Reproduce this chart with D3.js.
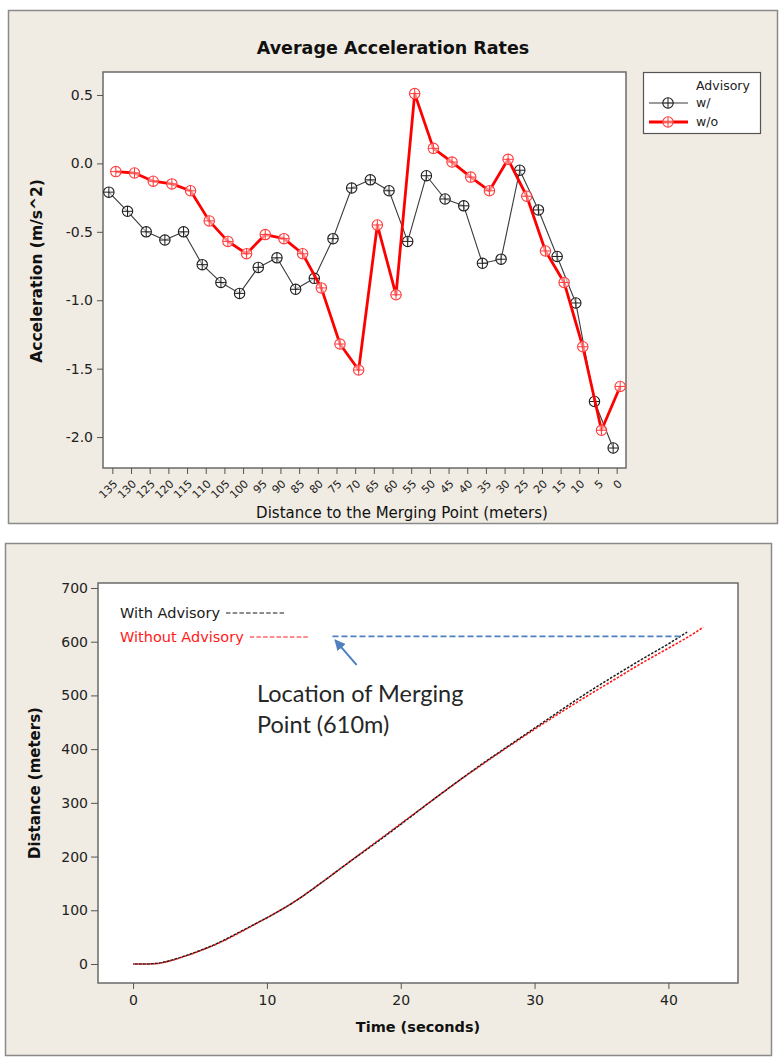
<!DOCTYPE html>
<html>
<head>
<meta charset="utf-8">
<script src="https://cdn.jsdelivr.net/npm/d3@7"></script>
<style>
  html, body { margin: 0; padding: 0; background: #ffffff; }
  svg { display: block; }
</style>
</head>
<body>
<svg id="fig" width="780" height="1059"></svg>
<script>
// ---------- Average acceleration rates by distance to the merging point ----------
const distanceLabels = ["135","130","125","120","115","110","105","100","95","90","85","80","75","70",
                        "65","60","55","50","45","40","35","30","25","20","15","10","5","0"];
const accelWith    = [-0.21,-0.35,-0.50,-0.56,-0.50,-0.74,-0.87,-0.95,-0.76,-0.69,-0.92,-0.84,-0.55,-0.18,
                      -0.12,-0.20,-0.57,-0.09,-0.26,-0.31,-0.73,-0.70,-0.05,-0.34,-0.68,-1.02,-1.74,-2.08];
const accelWithout = [-0.06,-0.07,-0.13,-0.15,-0.20,-0.42,-0.57,-0.66,-0.52,-0.55,-0.66,-0.91,-1.32,-1.51,
                      -0.45,-0.96, 0.51, 0.11, 0.01,-0.10,-0.20, 0.03,-0.24,-0.64,-0.87,-1.34,-1.95,-1.63];
const accelTicks = [-2.0, -1.5, -1.0, -0.5, 0.0, 0.5];
const advisoryGroups = ["w/", "w/o"];

// ---------- Distance travelled over time ----------
const timeWith     = [0,1,2,3,4,5,6,7,8,9,10,11,12,14,16,18,20,22,24,26,28,30,32,34,36,38,40,41.4];
const distWith     = [0,0,2,8,16,25,35,47,60,73,86,100,115,150,187,223,260,298,335,371,405,439,473,506,537,567,596,618];
const timeWithout  = [0,1,2,3,4,5,6,7,8,9,10,11,12,14,16,18,20,22,24,26,28,30,32,34,36,38,40,42,42.6];
const distWithout  = [0,0,1.5,7.5,15.5,24.5,34.5,46,59,72.5,86,100,115,150,187,224,261,298,335,370,404,437,469,500,530,560,588,617,627];
const timeTicks = [0, 10, 20, 30, 40];
const distTicks = [0, 100, 200, 300, 400, 500, 600, 700];
const mergeDistance = 610;          // merging point location (m)
const mergeSpan = [14.9, 41.1];     // time span of the reference line (s)
const arrowFrom = [16.7, 557];      // callout arrow tail (t, d)
const arrowTo   = [15.1, 603];      // callout arrow head (t, d)

const svg = d3.select("#fig");
const panelFill = "#f0ece3";
const uiFont = "'DejaVu Sans', Verdana, sans-serif";

// ======================= Top panel =======================
svg.append("rect").attr("x", 8.5).attr("y", 10.5).attr("width", 769).attr("height", 513)
  .attr("fill", panelFill).attr("stroke", "#8a8a8a").attr("stroke-width", 1.5);

const accArea = { left: 103, right: 626, top: 72, bottom: 468 };
const x1 = d3.scalePoint().domain(distanceLabels).range([accArea.left, accArea.right]).padding(0.5);
const y1 = d3.scaleLinear().domain([-2.226, 0.668]).range([accArea.bottom, accArea.top]);
const dodge = d3.scalePoint().domain(advisoryGroups).range([-3.5, 3.5]);

svg.append("rect").attr("x", accArea.left).attr("y", accArea.top)
  .attr("width", accArea.right - accArea.left).attr("height", accArea.bottom - accArea.top)
  .attr("fill", "#ffffff").attr("stroke", "#6a6a6a").attr("stroke-width", 1.5);

svg.append("text").attr("x", 393).attr("y", 54).attr("text-anchor", "middle")
  .attr("font-family", uiFont).attr("font-weight", "bold").attr("font-size", 17.5)
  .attr("fill", "#111").text("Average Acceleration Rates");

// y axis
const yAx1 = svg.append("g").attr("transform", `translate(${accArea.left},0)`)
  .call(d3.axisLeft(y1).tickValues(accelTicks).tickSize(6).tickPadding(4)
        .tickFormat(d => d.toFixed(1)));
yAx1.select(".domain").remove();
yAx1.selectAll("line").attr("stroke", "#555");
yAx1.selectAll("text").attr("font-family", uiFont).attr("font-size", 14).attr("fill", "#222");

// x axis with rotated category labels
const xAx1 = svg.append("g").attr("transform", `translate(0,${accArea.bottom})`)
  .call(d3.axisBottom(x1).tickSize(6));
xAx1.select(".domain").remove();
xAx1.selectAll("line").attr("stroke", "#555");
xAx1.selectAll("text")
  .attr("font-family", uiFont).attr("font-size", 11).attr("fill", "#222")
  .attr("text-anchor", "end").attr("dy", null).attr("y", null)
  .attr("dominant-baseline", "central")
  .attr("transform", "translate(3,14) rotate(-45)");

svg.append("text").attr("transform", "translate(42,271) rotate(-90)")
  .attr("text-anchor", "middle").attr("font-family", uiFont).attr("font-weight", "bold")
  .attr("font-size", 15.5).attr("fill", "#111").text("Acceleration (m/s^2)");
svg.append("text").attr("x", 402).attr("y", 518).attr("text-anchor", "middle")
  .attr("font-family", uiFont).attr("font-size", 15).attr("fill", "#111")
  .text("Distance to the Merging Point (meters)");

const accelSeries = [
  { key: "w/",  values: accelWith,    line: "#3a3a3a", lw: 1.1, mark: "#1e1e1e" },
  { key: "w/o", values: accelWithout, line: "#ff0000", lw: 2.8, mark: "#ff3b3b" }
];

function drawMarker(g, cx, cy, color) {
  const r = 5.2;
  g.append("circle").attr("cx", cx).attr("cy", cy).attr("r", r)
    .attr("fill", "rgba(255,255,255,0.55)").attr("stroke", color).attr("stroke-width", 1.1);
  g.append("line").attr("x1", cx - r).attr("x2", cx + r).attr("y1", cy).attr("y2", cy)
    .attr("stroke", color).attr("stroke-width", 1);
  g.append("line").attr("x1", cx).attr("x2", cx).attr("y1", cy - r).attr("y2", cy + r)
    .attr("stroke", color).attr("stroke-width", 1);
}

accelSeries.forEach(s => {
  const pts = distanceLabels.map((c, i) => [x1(c) + dodge(s.key), y1(s.values[i])]);
  svg.append("path").attr("d", d3.line()(pts)).attr("fill", "none")
    .attr("stroke", s.line).attr("stroke-width", s.lw).attr("stroke-linejoin", "round");
  const g = svg.append("g");
  pts.forEach(p => drawMarker(g, p[0], p[1], s.mark));
});

// legend
const lg = svg.append("g");
lg.append("rect").attr("x", 643.5).attr("y", 72.5).attr("width", 117).attr("height", 61)
  .attr("fill", "#ffffff").attr("stroke", "#555").attr("stroke-width", 1.2);
lg.append("text").attr("x", 696).attr("y", 90).attr("font-family", uiFont).attr("font-size", 12.5)
  .attr("fill", "#222").text("Advisory");
accelSeries.forEach((s, i) => {
  const yy = 103 + i * 19;
  lg.append("line").attr("x1", 649).attr("x2", 688).attr("y1", yy).attr("y2", yy)
    .attr("stroke", s.line).attr("stroke-width", s.lw);
  drawMarker(lg, 668, yy, s.mark);
  lg.append("text").attr("x", 696).attr("y", yy).attr("dy", "0.35em")
    .attr("font-family", uiFont).attr("font-size", 12.5).attr("fill", "#222").text(s.key);
});

// ======================= Bottom panel =======================
svg.append("rect").attr("x", 5.5).attr("y", 543.5).attr("width", 766).attr("height", 512)
  .attr("fill", panelFill).attr("stroke", "#8a8a8a").attr("stroke-width", 1.5);

const travelArea = { left: 98, right: 738, top: 583, bottom: 983 };
const x2 = d3.scaleLinear().domain([-2.62, 45.2]).range([travelArea.left, travelArea.right]);
const y2 = d3.scaleLinear().domain([-35.4, 709.3]).range([travelArea.bottom, travelArea.top]);

svg.append("rect").attr("x", travelArea.left).attr("y", travelArea.top)
  .attr("width", travelArea.right - travelArea.left).attr("height", travelArea.bottom - travelArea.top)
  .attr("fill", "#ffffff").attr("stroke", "#6a6a6a").attr("stroke-width", 1.5);

const yAx2 = svg.append("g").attr("transform", `translate(${travelArea.left},0)`)
  .call(d3.axisLeft(y2).tickValues(distTicks).tickSize(7).tickPadding(3).tickFormat(d3.format("d")));
yAx2.select(".domain").remove();
yAx2.selectAll("line").attr("stroke", "#555");
yAx2.selectAll("text").attr("font-family", uiFont).attr("font-size", 14).attr("fill", "#222");

const xAx2 = svg.append("g").attr("transform", `translate(0,${travelArea.bottom})`)
  .call(d3.axisBottom(x2).tickValues(timeTicks).tickSize(6).tickPadding(6).tickFormat(d3.format("d")));
xAx2.select(".domain").remove();
xAx2.selectAll("line").attr("stroke", "#555");
xAx2.selectAll("text").attr("font-family", uiFont).attr("font-size", 14).attr("fill", "#222");

svg.append("text").attr("transform", "translate(40,783) rotate(-90)")
  .attr("text-anchor", "middle").attr("font-family", uiFont).attr("font-weight", "bold")
  .attr("font-size", 15).attr("fill", "#111").text("Distance (meters)");
svg.append("text").attr("x", 418).attr("y", 1032).attr("text-anchor", "middle")
  .attr("font-family", uiFont).attr("font-weight", "bold").attr("font-size", 14.5)
  .attr("fill", "#111").text("Time (seconds)");

const travelLine = d3.line().x(d => x2(d[0])).y(d => y2(d[1])).curve(d3.curveMonotoneX);
const withPts = timeWith.map((t, i) => [t, distWith[i]]);
const withoutPts = timeWithout.map((t, i) => [t, distWithout[i]]);

svg.append("path").attr("d", travelLine(withoutPts)).attr("fill", "none")
  .attr("stroke", "#ff1a1a").attr("stroke-width", 1.6).attr("stroke-dasharray", "2.5,1.5");
svg.append("path").attr("d", travelLine(withPts)).attr("fill", "none")
  .attr("stroke", "#1a1a1a").attr("stroke-width", 1.5).attr("stroke-dasharray", "2.5,1.5")
  .attr("stroke-dashoffset", 2);

// merging point reference line and callout
svg.append("line").attr("x1", x2(mergeSpan[0])).attr("x2", x2(mergeSpan[1]))
  .attr("y1", y2(mergeDistance)).attr("y2", y2(mergeDistance))
  .attr("stroke", "#4f7fbf").attr("stroke-width", 1.6).attr("stroke-dasharray", "6,3");

const defs = svg.append("defs");
defs.append("marker").attr("id", "arrowHead").attr("viewBox", "0 0 10 10")
  .attr("refX", 9).attr("refY", 5).attr("markerWidth", 5.5).attr("markerHeight", 5.5)
  .attr("orient", "auto")
  .append("path").attr("d", "M0,0 L10,5 L0,10 Z").attr("fill", "#4f7fbf");
svg.append("line").attr("x1", x2(arrowFrom[0])).attr("y1", y2(arrowFrom[1]))
  .attr("x2", x2(arrowTo[0])).attr("y2", y2(arrowTo[1]))
  .attr("stroke", "#4f7fbf").attr("stroke-width", 2).attr("marker-end", "url(#arrowHead)");

const note = svg.append("text").attr("font-family", "Lato, 'Open Sans', sans-serif")
  .attr("font-size", 23.5).attr("fill", "#262626");
note.append("tspan").attr("x", 257).attr("y", 702).text("Location of Merging");
note.append("tspan").attr("x", 257).attr("y", 733).text("Point (610m)");

// in-plot key for the travel curves
const keys = [
  { label: "With Advisory",    color: "#1a1a1a", y: 618 },
  { label: "Without Advisory", color: "#ff1a1a", y: 642 }
];
keys.forEach(k => {
  const t = svg.append("text").attr("x", 120).attr("y", k.y)
    .attr("font-family", uiFont).attr("font-size", 14.5).attr("fill", k.color).text(k.label);
  const end = 120 + t.node().getComputedTextLength();
  svg.append("line").attr("x1", end + 6).attr("x2", end + 66)
    .attr("y1", k.y - 5).attr("y2", k.y - 5)
    .attr("stroke", k.color).attr("stroke-width", 1).attr("stroke-dasharray", "4.5,2.2");
});
</script>
</body>
</html>
